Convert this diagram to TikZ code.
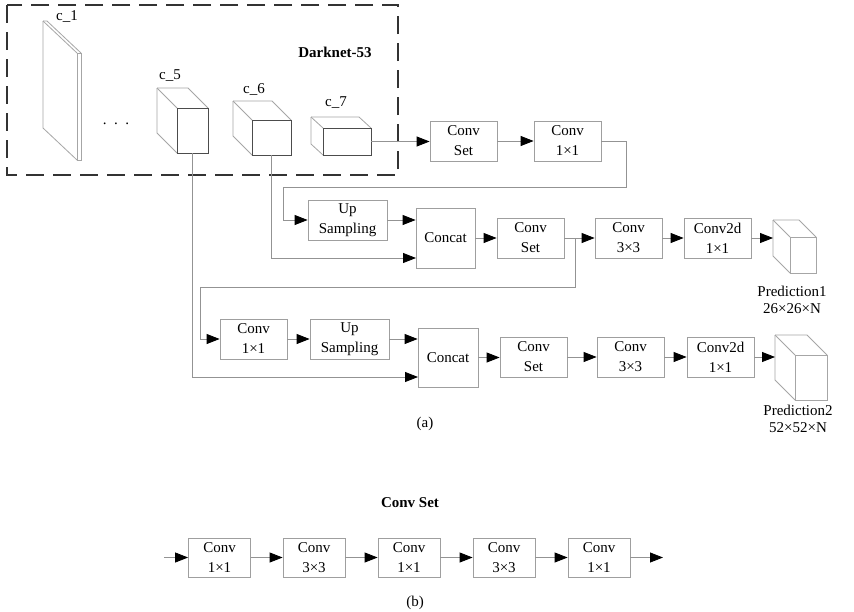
\documentclass[tikz,border=0pt]{standalone}
\usepackage{fontspec}
\setmainfont{Liberation Serif}
\usetikzlibrary{arrows.meta}
\tikzset{
  box/.style={draw=gray!75, line width=0.8pt, minimum width=67pt, minimum height=40pt, inner sep=0pt, align=center, font=\fontsize{15}{20}\selectfont},
  bbox/.style={box, minimum width=62pt, minimum height=39pt},
  conn/.style={draw=gray!85, line width=0.8pt},
  arr/.style={conn, -{Triangle[length=13pt,width=10pt,black]}},
  lbl/.style={inner sep=0pt, font=\fontsize{15}{18}\selectfont},
  cubefront/.style={draw=black!70, line width=0.8pt},
  cubeback/.style={draw=gray!70, line width=0.8pt},
  slab/.style={draw=gray!70, line width=0.8pt}
}
\newcommand\mycube[7]{% style x y w h dx dy
  \draw[cubeback] (#2-#6,#3-#7) -- (#2+#4-#6,#3-#7) -- (#2+#4,#3);
  \draw[cubeback] (#2-#6,#3-#7) -- (#2,#3);
  \draw[cubeback] (#2-#6,#3-#7) -- (#2-#6,#3+#5-#7) -- (#2,#3+#5);
  \draw[#1] (#2,#3) rectangle (#2+#4,#3+#5);
}
\begin{document}
\begin{tikzpicture}[x=1pt,y=-1pt]
\useasboundingbox[fill=white] (0,0) rectangle (854,611);

% Darknet-53 dashed frame
\draw[draw=black!80, line width=1.1pt, dash pattern=on 18pt off 9pt] (7,5) rectangle (398,175);
\node[lbl, font=\fontsize{15}{18}\selectfont\bfseries] (dk) at (335,52) {Darknet-53};

% feature maps
\mycube{slab}{77}{53}{4}{107}{34}{32}
\mycube{cubefront}{177}{108}{31}{45}{20}{20}
\mycube{cubefront}{252}{120}{39}{35}{19}{19}
\mycube{cubefront}{323}{128}{48}{27}{12}{11}
\node[lbl] (l1) at (67,17) {c\_1};
\node[lbl] (l5) at (170,76) {c\_5};
\node[lbl] (l6) at (254,89) {c\_6};
\node[lbl] (l7) at (336,103) {c\_7};
\node[lbl] (dots) at (116,124) {.\,\,\,.\,\,\,.};
\coordinate (c5out) at (192.5,153);
\coordinate (c6out) at (271.5,155);
\coordinate (c7out) at (371,141.5);

% row 1
\node[box] (cs1) at (463.5,141) {Conv\\Set};
\node[box] (c11a) at (567.5,141) {Conv\\1×1};
\draw[arr] (c7out) -- (cs1.west |- c7out);
\draw[arr] (cs1) -- (c11a);

% row 2
\node[box, minimum width=79pt] (up1) at (347.5,220) {Up\\Sampling};
\node[box, minimum width=59pt, minimum height=60pt] (cat1) at (445.5,238) {Concat};
\node[box] (cs2) at (530.5,238) {Conv\\Set};
\node[box] (c33a) at (628.5,238) {Conv\\3×3};
\node[box] (c2d1) at (717.5,238) {Conv2d\\1×1};
\coordinate (r1) at (626,187);
\coordinate (q1) at (283,187);
\draw[arr] (c11a.east) -| (r1) -- (q1) |- (up1.west);
\draw[arr] (up1.east) -- (up1.east -| cat1.west);
\coordinate (cat1in) at (416,258);
\draw[arr] (c6out) |- (cat1in);
\draw[arr] (cat1) -- (cs2);
\draw[arr] (cs2) -- (c33a);
\draw[arr] (c33a) -- (c2d1);
\mycube{cubeback}{790}{237}{26}{36}{17}{17}
\coordinate (p1in) at (773,238);
\draw[arr] (c2d1.east) -- (p1in);
\node[lbl] (p1a) at (792,291) {Prediction1};
\node[lbl] (p1b) at (792,309) {26×26×N};

% row 3
\node[box] (c11b) at (253.5,339) {Conv\\1×1};
\node[box, minimum width=79pt] (up2) at (349.5,339) {Up\\Sampling};
\node[box, minimum width=60pt, minimum height=59pt] (cat2) at (448,357.5) {Concat};
\node[box] (cs3) at (533.5,357) {Conv\\Set};
\node[box] (c33b) at (630.5,357) {Conv\\3×3};
\node[box] (c2d2) at (720.5,357) {Conv2d\\1×1};
\coordinate (br) at (575,238);
\coordinate (br2) at (575,287);
\coordinate (q2) at (200,287);
\draw[arr] (br) -- (br2) -- (q2) |- (c11b.west);
\draw[arr] (c11b) -- (up2);
\draw[arr] (up2.east) -- (up2.east -| cat2.west);
\coordinate (cat2in) at (418,377);
\draw[arr] (c5out) |- (cat2in);
\draw[arr] (cat2.east) -- (cat2.east -| cs3.west);
\draw[arr] (cs3) -- (c33b);
\draw[arr] (c33b) -- (c2d2);
\mycube{cubeback}{795}{355}{32}{45}{20}{20}
\coordinate (p2in) at (775,357);
\draw[arr] (c2d2.east) -- (p2in);
\node[lbl] (p2a) at (798,410) {Prediction2};
\node[lbl] (p2b) at (798,428) {52×52×N};

\node[lbl] (capa) at (425,424) {(a)};

% part (b)
\node[lbl, font=\fontsize{15}{18}\selectfont\bfseries] (cst) at (410,503) {Conv Set};
\node[bbox] (b1) at (219.5,557.5) {Conv\\1×1};
\node[bbox] (b2) at (314,557.5) {Conv\\3×3};
\node[bbox] (b3) at (409,557.5) {Conv\\1×1};
\node[bbox] (b4) at (504,557.5) {Conv\\3×3};
\node[bbox] (b5) at (599,557.5) {Conv\\1×1};
\coordinate (bin) at (164,557.5);
\coordinate (bout) at (663,557.5);
\draw[arr] (bin) -- (b1);
\draw[arr] (b1) -- (b2);
\draw[arr] (b2) -- (b3);
\draw[arr] (b3) -- (b4);
\draw[arr] (b4) -- (b5);
\draw[arr] (b5) -- (bout);
\node[lbl] (capb) at (415,603) {(b)};
\end{tikzpicture}
\end{document}
